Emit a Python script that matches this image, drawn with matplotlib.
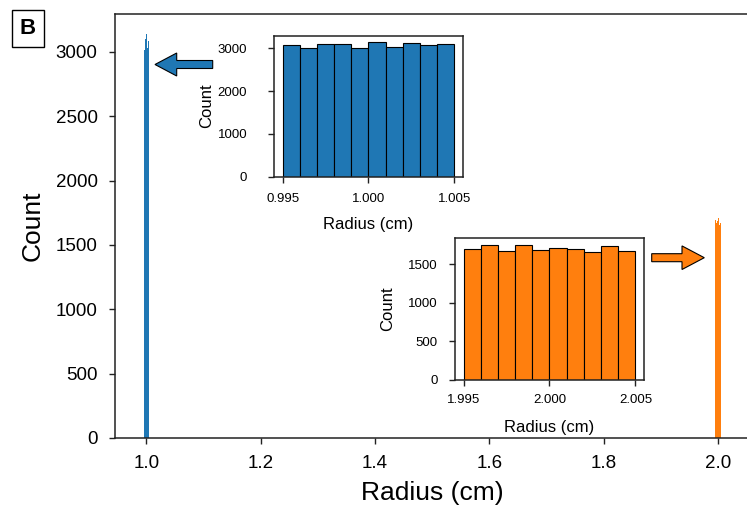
import numpy as np
import matplotlib
matplotlib.use("Agg")
import matplotlib.pyplot as plt
from matplotlib.patches import FancyArrow

plt.rcParams['font.family'] = ['Liberation Sans', 'DejaVu Sans']

# ---- data: 10-bin histograms of radii ----
blue_edges = np.linspace(0.995, 1.005, 11)
blue_counts = [3078, 3016, 3094, 3102, 3000, 3141, 3031, 3117, 3086, 3094]
orange_edges = np.linspace(1.995, 2.005, 11)
orange_counts = [1696, 1753, 1674, 1753, 1683, 1709, 1692, 1657, 1731, 1670]

main_xticks = [1.0, 1.2, 1.4, 1.6, 1.8, 2.0]
main_yticks = [0, 500, 1000, 1500, 2000, 2500, 3000]
blue_xticks = [0.995, 1.000, 1.005]
blue_yticks = [0, 1000, 2000, 3000]
orange_xticks = [1.995, 2.000, 2.005]
orange_yticks = [0, 500, 1000, 1500]

BLUE = '#1f77b4'
ORANGE = '#ff7f0e'
SPINE = '#222222'

def centers(edges):
    e = np.asarray(edges)
    return (e[:-1] + e[1:]) / 2

fig = plt.figure(figsize=(7.47, 5.08), dpi=100)
ax = fig.add_axes([0.1535, 0.1378, 0.8501, 0.8356])
ax.hist(centers(blue_edges), bins=blue_edges, weights=blue_counts, color=BLUE)
ax.hist(centers(orange_edges), bins=orange_edges, weights=orange_counts, color=ORANGE)
ax.set_xticks(main_xticks)
ax.set_xticklabels([f"{v:.1f}" for v in main_xticks])
ax.set_yticks(main_yticks)
ax.tick_params(labelsize=13.5, length=4.3, width=1.0, color=SPINE, pad=8)
ax.set_xlabel("Radius (cm)", fontsize=19, va='center')
ax.set_ylabel("Count", fontsize=19, va='center')
ax.xaxis.set_label_coords(0.5, -0.1296)
ax.yaxis.set_label_coords(-0.1287, 0.5)
for s in ax.spines.values():
    s.set_linewidth(1.1)
    s.set_color(SPINE)

def inset(rect, edges, counts, color, xt, yt, ypad, xpad):
    a = fig.add_axes(rect)
    a.hist(centers(edges), bins=edges, weights=counts, color=color,
           edgecolor='black', linewidth=0.8)
    a.set_xticks(xt)
    a.set_xticklabels([f"{v:.3f}" for v in xt])
    a.set_yticks(yt)
    a.tick_params(labelsize=9.5, length=4.3, width=1.0, color=SPINE)
    a.tick_params(axis='y', pad=ypad)
    a.tick_params(axis='x', pad=xpad)
    a.set_xlabel("Radius (cm)", fontsize=12, va='center')
    a.set_ylabel("Count", fontsize=12, va='center')
    a.xaxis.set_label_coords(0.5, -0.337)
    a.yaxis.set_label_coords(-0.3545, 0.5)
    for s in a.spines.values():
        s.set_linewidth(1.1)
        s.set_color(SPINE)
    return a

inset([0.3668, 0.6522, 0.2530, 0.2776], blue_edges, blue_counts, BLUE,
      blue_xticks, blue_yticks, 15, 7.5)
inset([0.6091, 0.2526, 0.2530, 0.2789], orange_edges, orange_counts, ORANGE,
      orange_xticks, orange_yticks, 8, 6)

# overlay for arrows in pixel coordinates
ov = fig.add_axes([0, 0, 1, 1], zorder=10)
ov.set_xlim(0, 747)
ov.set_ylim(508, 0)
ov.axis('off')
ov.patch.set_alpha(0)
ov.add_patch(FancyArrow(212.7, 64.5, -57.7, 0, width=8, head_width=23,
                        head_length=21.7, length_includes_head=True,
                        fc=BLUE, ec='black', lw=0.8))
ov.add_patch(FancyArrow(651.7, 257.7, 52.6, 0, width=8, head_width=23.6,
                        head_length=22.3, length_includes_head=True,
                        fc=ORANGE, ec='black', lw=0.8))

fig.text(28 / 747, 1 - 28.5 / 508, "B", fontsize=16, fontweight='bold',
         ha='center', va='center',
         bbox=dict(boxstyle='square,pad=0.35', fc='white', ec='black', lw=1.0))

fig.savefig("out.png", dpi=100)
